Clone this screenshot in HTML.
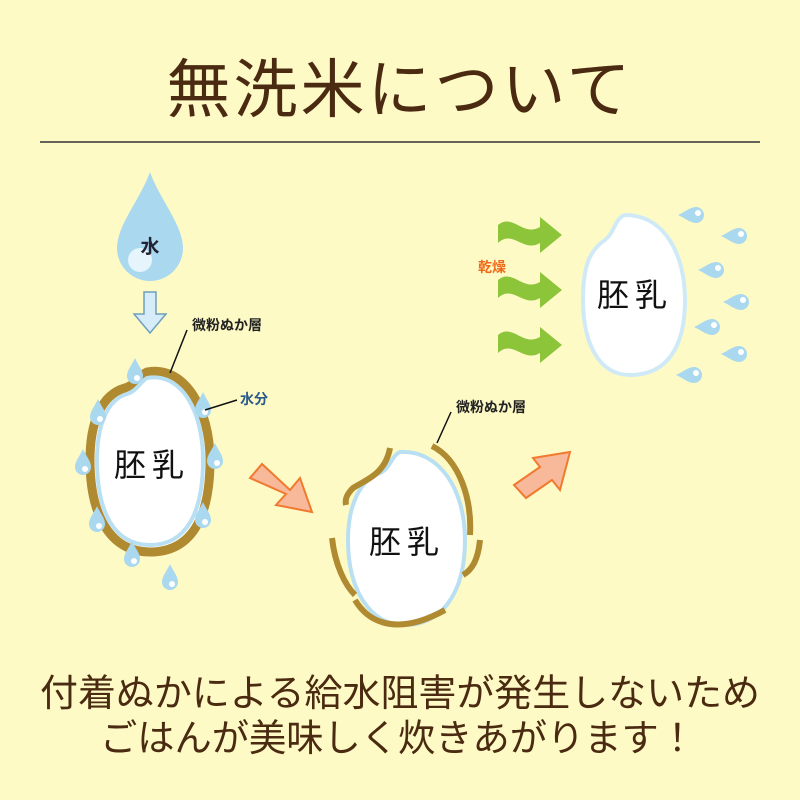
<!DOCTYPE html>
<html><head><meta charset="utf-8"><style>
html,body{margin:0;padding:0;background:#fefac6;}
svg{display:block}
text{font-family:"Liberation Sans","Noto Sans CJK JP",sans-serif;}
</style></head><body>
<svg width="800" height="800" viewBox="0 0 800 800" xmlns="http://www.w3.org/2000/svg">
<defs>
<path id="drop" d="M0,-14 C3,-7 8,-2 8,4 A8,8 0 0 1 -8,4 C-8,-2 -3,-7 0,-14Z" fill="#a9d8ef"/>
<g id="d"><use href="#drop"/><circle cx="2" cy="6" r="3" fill="#fff"/></g>
<path id="wave" d="M0,-10 C15,-22 25,2 42,-8 L42,-18 L64,0 L42,18 L42,8 C25,18 15,-6 0,8Z" fill="#8cc43a"/>
</defs>
<rect width="800" height="800" fill="#fefac6"/>
<text x="400" y="112" text-anchor="middle" font-size="64" fill="#4a2a10" letter-spacing="3">無洗米について</text>
<line x1="40" y1="142" x2="760" y2="142" stroke="#333" stroke-width="1.5"/>

<path d="M150,172 C160,200 183,225 183,248 A33,33 0 0 1 117,248 C117,225 140,200 150,172Z" fill="#a9d8ef"/>
<circle cx="140" cy="260" r="12" fill="#e6f4fb"/>
<text x="150" y="253" text-anchor="middle" font-size="19" font-weight="bold" fill="#223">水</text>
<path d="M144,292 L156,292 L156,314 L166,314 L150,333 L134,314 L144,314Z" fill="#d6ecf8" stroke="#6d9fba" stroke-width="1.5"/>

<g>
<path d="M147,372 C185,365 210,410 210,460 C210,520 190,552 150,552 C110,552 90,515 90,460 C90,425 100,395 125,388 C135,385 140,375 147,372Z" fill="#fff" stroke="#b08a30" stroke-width="9"/>
<path d="M147,378 C182,372 203,412 203,460 C203,515 185,545 150,545 C114,545 97,512 97,460 C97,428 106,400 127,394 C137,391 141,381 147,378Z" fill="#fff" stroke="#b9e0f2" stroke-width="4"/>
<text x="152" y="476" text-anchor="middle" font-size="32" fill="#111" letter-spacing="6">胚乳</text>
<use href="#d" x="135" y="372"/><use href="#d" x="98" y="413"/><use href="#d" x="203" y="406"/>
<use href="#d" x="83" y="463"/><use href="#d" x="215" y="457"/><use href="#d" x="97" y="520"/>
<use href="#d" x="203" y="516"/><use href="#d" x="132" y="555"/><use href="#d" x="170" y="578"/>
</g>
<line x1="187" y1="330" x2="170" y2="373" stroke="#111" stroke-width="1.5"/>
<text x="192" y="330" font-size="14" font-weight="bold" fill="#222">微粉ぬか層</text>
<line x1="205" y1="410" x2="237" y2="400" stroke="#111" stroke-width="1.5"/>
<text x="240" y="404" font-size="14" font-weight="bold" fill="#2a5a8a">水分</text>

<path d="M250,478 L262,464 L290,490 L300,478 L312,512 L276,505 L286,494Z" fill="#f8b89a" stroke="#f07a30" stroke-width="2"/>

<path d="M400,452 C440,450 465,490 465,540 C465,595 440,625 405,625 C370,625 348,590 348,540 C348,505 360,480 380,473 C390,469 392,455 400,452Z" fill="#fff" stroke="#b9e0f2" stroke-width="4"/>
<text x="407" y="553" text-anchor="middle" font-size="32" fill="#111" letter-spacing="6">胚乳</text>
<g fill="none" stroke="#b08a30" stroke-width="6">
<path d="M432,446 C460,460 472,500 470,535"/>
<path d="M390,448 C385,475 365,480 353,488 C346,495 345,500 346,505"/>
<path d="M332,538 C335,565 345,585 355,595"/>
<path d="M480,540 C478,560 472,570 463,575"/>
<path d="M355,600 C370,625 400,635 445,610"/>
</g>
<line x1="451" y1="412" x2="437" y2="443" stroke="#111" stroke-width="1.5"/>
<text x="456" y="412" font-size="14" font-weight="bold" fill="#222">微粉ぬか層</text>

<path d="M514,485 L540,467 L533,458 L570,452 L560,490 L552,480 L526,498Z" fill="#f8b89a" stroke="#f07a30" stroke-width="2"/>

<use href="#wave" x="498" y="235"/>
<use href="#wave" x="498" y="290"/>
<use href="#wave" x="498" y="345"/>
<text x="478" y="272" font-size="14" font-weight="bold" fill="#ee6a1a">乾燥</text>

<path d="M625,215 C665,215 685,255 685,300 C685,350 665,375 630,375 C600,375 583,345 583,300 C583,265 590,250 605,240 C615,232 615,218 625,215Z" fill="#fff" stroke="#cfeaf6" stroke-width="4"/>
<text x="635" y="306" text-anchor="middle" font-size="32" fill="#111" letter-spacing="6">胚乳</text>
<g>
<use href="#d" transform="translate(692,215) rotate(-90)"/>
<use href="#d" transform="translate(735,236) rotate(-90)"/>
<use href="#d" transform="translate(712,270) rotate(-90)"/>
<use href="#d" transform="translate(737,302) rotate(-90)"/>
<use href="#d" transform="translate(708,327) rotate(-90)"/>
<use href="#d" transform="translate(735,354) rotate(-90)"/>
<use href="#d" transform="translate(690,375) rotate(-90)"/>
</g>

<text x="400" y="706" text-anchor="middle" font-size="37.5" fill="#4a2a10" textLength="720" lengthAdjust="spacingAndGlyphs">付着ぬかによる給水阻害が発生しないため</text>
<text x="398" y="751" text-anchor="middle" font-size="37.5" fill="#4a2a10" textLength="596" lengthAdjust="spacingAndGlyphs">ごはんが美味しく炊きあがります！</text>
</svg>
</body></html>
